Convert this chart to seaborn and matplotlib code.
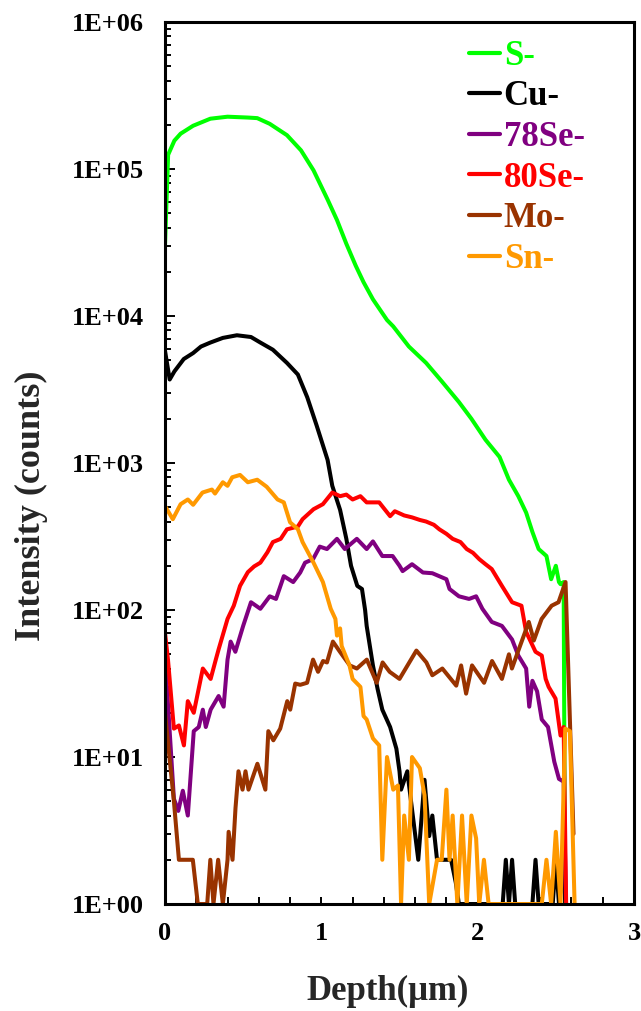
import numpy as np
import pandas as pd
import matplotlib
matplotlib.use("Agg")
import matplotlib.pyplot as plt
import seaborn as sns
from matplotlib.ticker import LogLocator, MultipleLocator, NullFormatter

# ---------------- data ----------------
species = ["S-", "Cu-", "78Se-", "80Se-", "Mo-", "Sn-"]
colors = ["#00FF00", "#000000", "#800080", "#FF0000", "#993300", "#FF9900"]

S_x = [0.00, 0.02, 0.06, 0.10, 0.18, 0.29, 0.40, 0.53, 0.59, 0.67, 0.78, 0.87, 0.95, 1.04, 1.10, 1.16, 1.22, 1.27, 1.33,
       1.42, 1.46, 1.56, 1.67, 1.77, 1.88, 1.96, 2.05, 2.14, 2.20, 2.26, 2.31, 2.35, 2.39, 2.44, 2.47, 2.50, 2.52, 2.53,
       2.55, 2.56]
S_y = [3.0e4, 1.25e5, 1.56e5, 1.74e5, 1.97e5, 2.2e5, 2.27e5, 2.24e5, 2.22e5, 2.03e5, 1.7e5, 1.34e5, 9.8e4, 6.2e4, 4.5e4,
       3.1e4, 2.2e4, 1.7e4, 1.3e4, 9.4e3, 8.5e3, 6.2e3, 4.8e3, 3.6e3, 2.6e3, 2.0e3, 1.44e3, 1.1e3, 770, 595, 460, 340,
       260, 233, 162, 200, 155, 150, 155, 0.5]

Cu_x = [0.00, 0.03, 0.06, 0.12, 0.18, 0.23, 0.29, 0.37, 0.46, 0.55, 0.61, 0.69, 0.78, 0.85, 0.91, 0.97, 1.04, 1.07, 1.12,
        1.16, 1.19, 1.23, 1.26, 1.28, 1.29, 1.33, 1.36, 1.39, 1.44, 1.48, 1.50, 1.51, 1.55, 1.62, 1.66, 1.69, 1.71, 1.74,
        1.77, 1.83, 1.86, 1.88, 2.16, 2.18, 2.20, 2.22, 2.24, 2.35, 2.37, 2.39, 2.48, 2.50, 2.52, 2.55, 2.57]
Cu_y = [5800, 3700, 4200, 5100, 5600, 6200, 6600, 7100, 7400, 7200, 6600, 5900, 4800, 4000, 2800, 1800, 1050, 700, 480,
        305, 200, 146, 139, 100, 78, 42, 29, 21, 16, 11.4, 8, 6, 8, 2, 7, 2.9, 4, 2, 2, 2, 1.4, 1, 1, 2, 1, 2, 1, 1, 2, 1,
        1, 2, 1, 2, 0.5]

Se78_x = [0.00, 0.057, 0.085, 0.114, 0.146, 0.184, 0.216, 0.242, 0.261, 0.292, 0.343, 0.375, 0.40, 0.42, 0.45, 0.50,
          0.55, 0.61, 0.67, 0.71, 0.76, 0.82, 0.865, 0.896, 0.947, 0.99, 1.036, 1.10, 1.15, 1.227, 1.29, 1.33, 1.39,
          1.456, 1.50, 1.52, 1.58, 1.65, 1.71, 1.80, 1.82, 1.88, 1.945, 1.99, 2.03, 2.09, 2.155, 2.22, 2.26, 2.31, 2.33,
          2.35, 2.38, 2.41, 2.45, 2.49, 2.52, 2.55, 2.57]
Se78_y = [48, 5.2, 4.3, 5.9, 4.0, 15, 16, 21, 16, 21, 26, 22, 46, 61, 52, 78, 113, 102, 124, 119, 170, 155, 180, 210,
          222, 270, 260, 305, 260, 305, 260, 293, 233, 233, 200, 184, 205, 180, 178, 162, 139, 124, 119, 124, 102, 83,
          78, 63, 49, 40, 22, 33, 28, 18, 16, 9.3, 7.1, 6.8, 0.5]

Se80_x = [0.00, 0.019, 0.057, 0.089, 0.121, 0.146, 0.184, 0.242, 0.292, 0.325, 0.343, 0.40, 0.44, 0.48, 0.53, 0.57,
          0.61, 0.655, 0.69, 0.74, 0.78, 0.85, 0.88, 0.95, 1.01, 1.07, 1.12, 1.16, 1.20, 1.25, 1.29, 1.37, 1.44, 1.47,
          1.53, 1.58, 1.63, 1.67, 1.72, 1.755, 1.80, 1.84, 1.89, 1.93, 1.97, 2.01, 2.05, 2.09, 2.155, 2.22, 2.28, 2.31,
          2.37, 2.41, 2.435, 2.454, 2.498, 2.53, 2.55, 2.57]
Se80_y = [70, 46, 15.6, 16.4, 12, 24, 20, 40, 34, 46, 54, 87, 107, 146, 181, 198, 210, 247, 290, 305, 354, 370, 415,
          485, 525, 630, 595, 610, 565, 595, 540, 540, 435, 470, 440, 427, 410, 400, 380, 354, 330, 305, 290, 260, 245,
          222, 205, 190, 146, 113, 107, 71, 52, 49, 34, 30, 25, 14, 16, 0.5]

Mo_x = [0.00, 0.057, 0.089, 0.178, 0.21, 0.27, 0.29, 0.31, 0.34, 0.37, 0.40, 0.407, 0.432, 0.451, 0.47, 0.496, 0.515,
        0.534, 0.591, 0.642, 0.661, 0.693, 0.737, 0.782, 0.801, 0.833, 0.865, 0.909, 0.947, 0.979, 1.011, 1.036, 1.074,
        1.119, 1.182, 1.227, 1.291, 1.354, 1.392, 1.437, 1.50, 1.608, 1.672, 1.71, 1.774, 1.863, 1.894, 1.926, 1.964,
        2.041, 2.092, 2.155, 2.20, 2.219, 2.263, 2.327, 2.359, 2.409, 2.473, 2.517, 2.562, 2.613]
Mo_y = [20, 5, 2, 2, 1, 1, 2, 1, 2, 1, 2, 3.1, 2, 4.5, 8, 6, 8, 6, 9, 6, 15, 13, 15.6, 24, 21, 31.6, 31, 32, 46, 38,
        45, 44, 61, 52, 42, 40, 46, 32, 44, 38, 34, 53, 44, 36, 40, 30.6, 42, 27, 42, 32, 45, 34, 50, 40, 54, 83, 62, 87,
        107, 113, 155, 3]

Sn_x = [0.00, 0.05, 0.10, 0.146, 0.18, 0.24, 0.30, 0.32, 0.37, 0.40, 0.43, 0.48, 0.53, 0.59, 0.65, 0.72, 0.76, 0.80,
        0.85, 0.88, 0.95, 1.01, 1.06, 1.09, 1.10, 1.12, 1.13, 1.18, 1.20, 1.25, 1.27, 1.29, 1.33, 1.37, 1.39, 1.42, 1.46,
        1.49, 1.51, 1.53, 1.56, 1.58, 1.63, 1.66, 1.69, 1.74, 1.77, 1.80, 1.82, 1.84, 1.87, 1.90, 1.93, 1.96, 1.99, 2.01,
        2.04, 2.07, 2.41, 2.44, 2.47, 2.50, 2.53, 2.56, 2.59, 2.62]
Sn_y = [510, 415, 525, 565, 520, 630, 660, 620, 740, 700, 800, 830, 740, 770, 690, 565, 540, 395, 355, 290, 210, 155,
        102, 87, 67, 75, 57, 42, 34, 30, 19, 18, 13.4, 12, 2, 10, 6, 6.4, 1, 4, 2, 10, 8.4, 5.5, 1, 2, 2, 6, 2, 4, 1, 4,
        1, 4, 2.8, 1, 2, 1, 1, 2, 1, 3.1, 1, 15.6, 15, 1]

x_ticks = [0, 1, 2, 3]
x_tick_labels = ["0", "1", "2", "3"]
y_ticks = [1, 10, 100, 1000, 10000, 100000, 1000000]
y_tick_labels = ["1E+00", "1E+01", "1E+02", "1E+03", "1E+04", "1E+05", "1E+06"]

series_x = [S_x, Cu_x, Se78_x, Se80_x, Mo_x, Sn_x]
series_y = [S_y, Cu_y, Se78_y, Se80_y, Mo_y, Sn_y]

frames = []
for name, xs, ys in zip(species, series_x, series_y):
    assert len(xs) == len(ys), name
    frames.append(pd.DataFrame({"depth": xs, "intensity": ys, "species": name}))
df = pd.concat(frames, ignore_index=True)

# ---------------- style ----------------
sns.set_style("ticks")
plt.rcParams["font.family"] = ["Liberation Serif", "DejaVu Serif"]
plt.rcParams["font.weight"] = "bold"
plt.rcParams["axes.labelweight"] = "bold"

fig = plt.figure(figsize=(6.41, 10.11), dpi=100)
ax = fig.add_axes([0.2574, 0.1058, 0.7317, 0.8724])
ax.set_yscale("log")

sns.lineplot(data=df, x="depth", y="intensity", hue="species", hue_order=species,
             palette=dict(zip(species, colors)), estimator=None, sort=False,
             linewidth=2.9, ax=ax, legend=True)

ax.set_xlim(0, 3)
ax.set_ylim(1, 1e6)
ax.set_xticks(x_ticks, labels=x_tick_labels)
ax.set_yticks(y_ticks, labels=y_tick_labels)
ax.xaxis.set_minor_locator(MultipleLocator(0.2))
ax.yaxis.set_minor_locator(LogLocator(base=10, subs=np.arange(2, 10), numticks=20))
ax.yaxis.set_minor_formatter(NullFormatter())

for sp in ax.spines.values():
    sp.set_linewidth(2.2)
    sp.set_color("black")
    sp.set_visible(True)

ax.tick_params(axis="both", which="both", direction="in", colors="black", width=1.4)
ax.tick_params(axis="y", which="major", length=7, pad=15, labelsize=19)
ax.tick_params(axis="y", which="minor", length=4)
ax.tick_params(axis="x", which="major", length=5, pad=13, labelsize=19)
ax.tick_params(axis="x", which="minor", length=5)
for lab in ax.get_xticklabels() + ax.get_yticklabels():
    lab.set_fontweight("bold")

ax.set_xlabel("Depth(\u03bcm)", fontsize=25, fontweight="bold")
ax.set_ylabel("Intensity (counts)", fontsize=26, fontweight="bold")
ax.xaxis.set_label_coords(0.475, -0.080)
ax.yaxis.set_label_coords(-0.250, 0.452)

handles, labels = ax.get_legend_handles_labels()
if ax.get_legend() is not None:
    ax.get_legend().remove()
leg = ax.legend(handles, labels, loc="upper left", bbox_to_anchor=(0.648, 0.980),
                frameon=False, prop={"family": "Liberation Serif", "weight": "bold", "size": 25},
                handlelength=0.9, handletextpad=0.1, labelspacing=0.22,
                borderpad=0, borderaxespad=0)
for txt, ln, c in zip(leg.get_texts(), leg.get_lines(), colors):
    txt.set_color(c)
    ln.set_linewidth(3.0)
    ln.set_color(c)

fig.savefig("out.png", dpi=100)
